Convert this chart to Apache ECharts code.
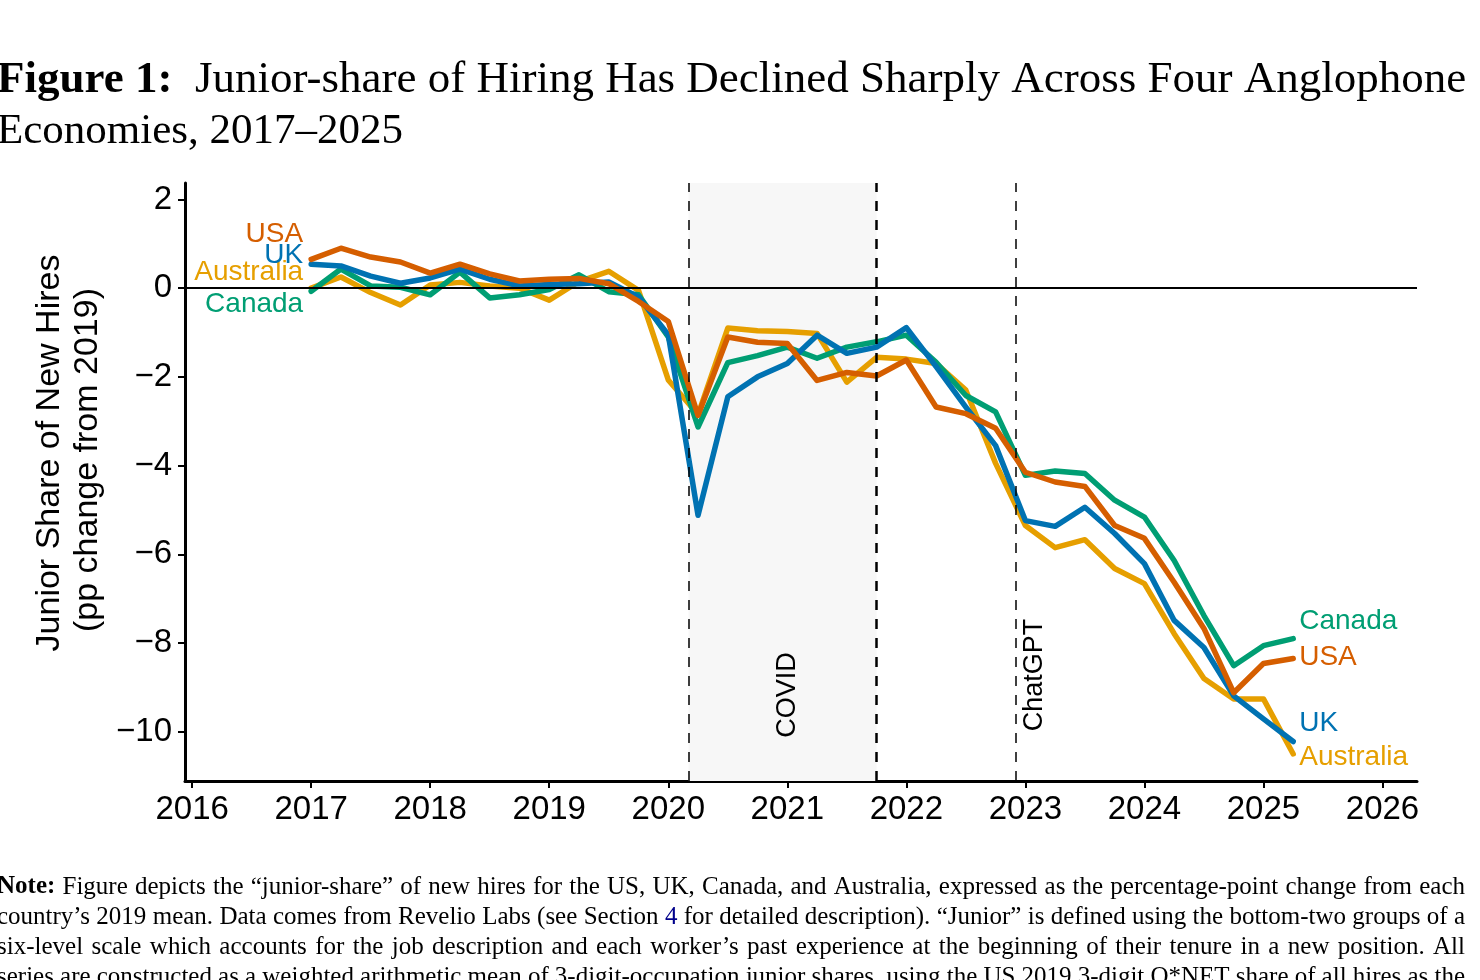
<!DOCTYPE html>
<html>
<head>
    <meta charset="utf-8">
    <title>Junior share of hiring</title>
    <script src="https://cdn.jsdelivr.net/npm/echarts@6.0.0/dist/echarts.min.js"></script>
</head>
<style>
    body {
        margin: 0;
        background: #fff;
    }

    #main {
        width: 1480px;
        height: 980px;
    }
</style>
<body>
<div id="main"></div>
<script type="text/javascript">

    // quarters 2017Q1 .. 2025Q2
    var quarters = ['2017Q1', '2017Q2', '2017Q3', '2017Q4', '2018Q1', '2018Q2', '2018Q3', '2018Q4',
        '2019Q1', '2019Q2', '2019Q3', '2019Q4', '2020Q1', '2020Q2', '2020Q3', '2020Q4',
        '2021Q1', '2021Q2', '2021Q3', '2021Q4', '2022Q1', '2022Q2', '2022Q3', '2022Q4',
        '2023Q1', '2023Q2', '2023Q3', '2023Q4', '2024Q1', '2024Q2', '2024Q3', '2024Q4',
        '2025Q1', '2025Q2'];

    var usa = [0.65, 0.9, 0.7, 0.59, 0.34, 0.54, 0.32, 0.16, 0.2, 0.22, 0.1, -0.3,
        -0.75, -2.87, -1.1, -1.22, -1.25, -2.08, -1.9, -1.98, -1.62, -2.68, -2.83, -3.16,
        -4.15, -4.37, -4.47, -5.35, -5.64, -6.63, -7.67, -9.12, -8.46, -8.35];

    var uk = [0.54, 0.5, 0.27, 0.11, 0.23, 0.43, 0.2, 0.05, 0.08, 0.1, 0.14, -0.2,
        -1.05, -5.12, -2.45, -2.0, -1.7, -1.06, -1.47, -1.33, -0.89, -1.77, -2.68, -3.55,
        -5.24, -5.37, -4.94, -5.53, -6.21, -7.49, -8.1, -9.19, -9.71, -10.22];

    var canada = [-0.07, 0.43, 0.05, 0.02, -0.15, 0.36, -0.22, -0.15, -0.03, 0.3, -0.08, -0.15,
        -1.1, -3.13, -1.68, -1.52, -1.33, -1.58, -1.33, -1.21, -1.06, -1.67, -2.42, -2.79,
        -4.22, -4.12, -4.18, -4.78, -5.16, -6.14, -7.38, -8.51, -8.06, -7.9];

    var australia = [0.0, 0.25, -0.1, -0.38, 0.07, 0.13, 0.05, 0.0, -0.27, 0.15, 0.38, -0.05,
        -2.07, -2.85, -0.9, -0.96, -0.98, -1.02, -2.12, -1.56, -1.6, -1.7, -2.3, -3.95,
        -5.35, -5.85, -5.67, -6.32, -6.66, -7.79, -8.8, -9.26, -9.26, -10.5];

    var xTicks = [2016, 2017, 2018, 2019, 2020, 2021, 2022, 2023, 2024, 2025, 2026];
    var yTicks = [-10, -8, -6, -4, -2, 0, 2];

    // events (decimal years)
    var covidStart = 2020.17;
    var covidEnd = 2021.75;
    var chatgpt = 2022.92;

    var titleLine1 = 'Junior-share of Hiring Has Declined Sharply Across Four Anglophone';
    var titleLine2 = 'Economies, 2017\u20132025';
    var noteLines = [
        'Note: Figure depicts the \u201cjunior-share\u201d of new hires for the US, UK, Canada, and Australia, expressed as the percentage-point change from each',
        'country\u2019s 2019 mean. Data comes from Revelio Labs (see Section 4 for detailed description). \u201cJunior\u201d is defined using the bottom-two groups of a',
        'six-level scale which accounts for the job description and each worker\u2019s past experience at the beginning of their tenure in a new position. All',
        'series are constructed as a weighted arithmetic mean of 3-digit-occupation junior shares, using the US 2019 3-digit O*NET share of all hires as the'
    ];

    function toPairs(values) {
        return values.map(function (v, i) {
            var q = quarters[i];
            var x = parseInt(q.slice(0, 4)) + (parseInt(q.slice(5)) - 1) / 4;
            return [x, v];
        });
    }

    function fmtMinus(v) {
        return v < 0 ? '\u2212' + Math.abs(v) : String(v);
    }

    var sans = 'Liberation Sans, Arial, Helvetica, sans-serif';
    var serif = '"Liberation Serif", "Times New Roman", serif';

    // justified note text, word by word
    var measureCtx = document.createElement('canvas').getContext('2d');

    function noteGraphics(left, right, top, step, size) {
        var out = [];
        noteLines.forEach(function (line, li) {
            var words = line.split(' ');
            var fonts = words.map(function (w, wi) {
                return (li === 0 && wi === 0 ? 'bold ' : '') + size + 'px ' + serif;
            });
            var widths = words.map(function (w, wi) {
                measureCtx.font = fonts[wi];
                return measureCtx.measureText(w).width;
            });
            var total = widths.reduce(function (a, b) { return a + b; }, 0);
            var gap = (right - left - total) / (words.length - 1);
            var x = left;
            words.forEach(function (w, wi) {
                out.push({
                    type: 'text', x: x, y: top + li * step, silent: true,
                    style: {
                        text: w, font: fonts[wi], verticalAlign: 'middle',
                        fill: (li === 1 && w === '4') ? '#00008B' : '#000'
                    }
                });
                x += widths[wi] + gap;
            });
        });
        return out;
    }

    function countrySeries(name, values, color, startOffset, endOffset) {
        var pts = toPairs(values);
        return {
            name: name,
            type: 'line',
            data: pts,
            showSymbol: false,
            silent: true,
            lineStyle: {color: color, width: 5.5, cap: 'round', join: 'round'},
            itemStyle: {color: color},
            markPoint: {
                symbol: 'circle',
                symbolSize: 0,
                silent: true,
                data: [
                    {
                        coord: pts[0],
                        label: {
                            show: true, position: 'left', offset: startOffset, formatter: name,
                            color: color, fontSize: 28, fontFamily: sans
                        }
                    },
                    {
                        coord: pts[pts.length - 1],
                        label: {
                            show: true, position: 'right', offset: endOffset, formatter: name,
                            color: color, fontSize: 28, fontFamily: sans
                        }
                    }
                ]
            },
            z: 3
        };
    }

    var chart = echarts.init(document.getElementById('main'));

    var series = [
        countrySeries('Australia', australia, '#E69F00', [-3, -16], [1, 3]),
        countrySeries('Canada', canada, '#009E73', [-3, 13], [1, -17]),
        countrySeries('UK', uk, '#0072B2', [-3, -9], [1, -18]),
        countrySeries('USA', usa, '#D55E00', [-3, -25], [1, -1])
    ];

    // shaded covid window, event lines, zero line
    series.push({
        type: 'line',
        data: [],
        silent: true,
        z: 1,
        markArea: {
            silent: true,
            itemStyle: {color: '#f7f7f7'},
            data: [[{xAxis: covidStart}, {xAxis: covidEnd}]]
        },
        markLine: {
            silent: true,
            symbol: 'none',
            label: {show: false},
            data: [
                {yAxis: 0, lineStyle: {color: '#000', width: 2, type: 'solid'}},
                {xAxis: covidStart, lineStyle: {color: '#000', width: 1.5, type: [10, 9]}},
                {xAxis: covidEnd, lineStyle: {color: '#000', width: 2.5, type: [10, 9]}},
                {xAxis: chatgpt, lineStyle: {color: '#000', width: 1.5, type: [10, 9]}}
            ]
        },
        markPoint: {
            symbol: 'circle',
            symbolSize: 0,
            silent: true,
            label: {show: true, rotate: 90, position: 'inside', color: '#000', fontSize: 27, fontFamily: sans},
            data: [
                {coord: [2021.0, -9.17], label: {formatter: 'COVID'}},
                {coord: [2023.08, -8.72], label: {formatter: 'ChatGPT'}}
            ]
        }
    });

    chart.setOption({
        animation: false,
        backgroundColor: '#fff',
        grid: {left: 185, right: 63, top: 183, bottom: 199},
        xAxis: {
            type: 'value',
            min: 2015.94,
            max: 2026.29,
            splitLine: {show: false},
            axisLine: {show: true, onZero: false, lineStyle: {color: '#000', width: 3}},
            axisTick: {show: true, length: 7, lineStyle: {color: '#000', width: 2}, customValues: xTicks},
            axisLabel: {
                color: '#000', fontSize: 33, fontFamily: sans, margin: 12,
                customValues: xTicks,
                formatter: function (v) { return String(v); }
            }
        },
        yAxis: {
            type: 'value',
            min: -11.11,
            max: 2.37,
            splitLine: {show: false},
            axisLine: {show: true, onZero: false, lineStyle: {color: '#000', width: 3}},
            axisTick: {show: true, length: 7, lineStyle: {color: '#000', width: 2}, customValues: yTicks},
            axisLabel: {
                color: '#000', fontSize: 33, fontFamily: sans, margin: 13,
                customValues: yTicks,
                formatter: fmtMinus
            }
        },
        graphic: [
            {
                type: 'text', x: -3, y: 80,
                style: {
                    text: '{b|Figure 1:}  ' + titleLine1,
                    font: '45px ' + serif, fill: '#000', verticalAlign: 'middle',
                    rich: {b: {fontWeight: 'bold', fontSize: 45, fontFamily: serif}}
                }
            },
            {
                type: 'text', x: -3, y: 132,
                style: {text: titleLine2, font: '43px ' + serif, fill: '#000', verticalAlign: 'middle'}
            },
            {
                type: 'text', x: 50, y: 453, rotation: Math.PI / 2,
                style: {text: 'Junior Share of New Hires', font: '34px ' + sans, fill: '#000', align: 'center', verticalAlign: 'middle'}
            },
            {
                type: 'text', x: 88, y: 460, rotation: Math.PI / 2,
                style: {text: '(pp change from 2019)', font: '34px ' + sans, fill: '#000', align: 'center', verticalAlign: 'middle'}
            }
        ].concat(noteGraphics(-3, 1465, 887, 30, 25)),
        series: series
    });
</script>
</body>
</html>
